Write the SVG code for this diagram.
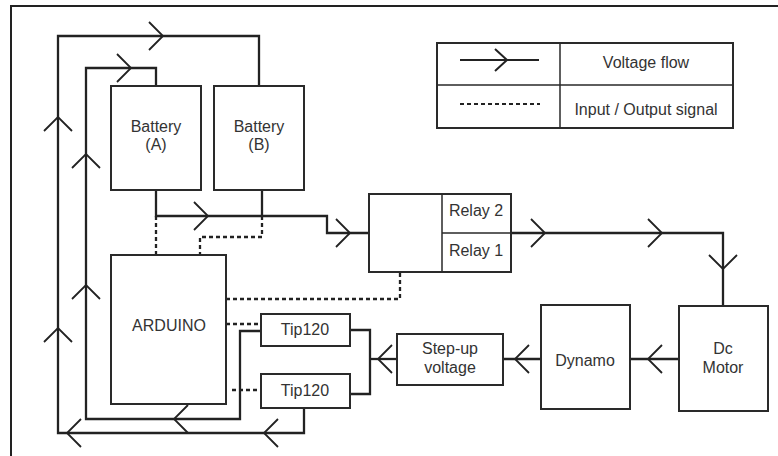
<svg xmlns="http://www.w3.org/2000/svg" xmlns:xlink="http://www.w3.org/1999/xlink" width="778" height="456" viewBox="0 0 778 456">
<style>
  .box{fill:#fff;stroke:#2a2a2a;stroke-width:2}
  .wire{fill:none;stroke:#222;stroke-width:2.3;stroke-linejoin:miter}
  .sig{fill:none;stroke:#222;stroke-width:2.3;stroke-dasharray:4 3}
  .chev{fill:none;stroke:#222;stroke-width:1.8}
  .thin{fill:none;stroke:#2a2a2a;stroke-width:1.5}
  text{font-family:"Liberation Sans",Arial,sans-serif;font-size:16px;fill:#333;text-anchor:middle}
</style>
<defs>
  <path id="chev" class="chev" d="M-14,-14 L0,0 L-14,14"/>
</defs>
<rect width="778" height="456" fill="#fff"/>
<path d="M11,456 V6 H778" fill="none" stroke="#222" stroke-width="2"/>

<g id="connectors">
  <path class="wire" d="M304,408 V433 H58 V36 H259 V86"/>
  <path class="wire" d="M261,331 H240 V419 H86 V68 H156 V86"/>
  <path class="wire" d="M156,190 V216 H327 V233 H369"/>
  <path class="wire" d="M262,190 V216"/>
  <path class="wire" d="M511,233 H723 V306"/>
  <path class="wire" d="M679,359 H630"/>
  <path class="wire" d="M541,359 H503"/>
  <path class="wire" d="M397,359 H370"/>
  <path class="wire" d="M350,330 H370 V394 H350"/>
  <path class="sig" d="M156,216 V255"/>
  <path class="sig" d="M262,216 V237 H200 V255"/>
  <path class="sig" d="M226,299 H400 V272"/>
  <path class="sig" d="M226,324 H261"/>
  <path class="sig" d="M232,390 H261"/>
  <use xlink:href="#chev" transform="translate(163,36)"/>
  <use xlink:href="#chev" transform="translate(131,68)"/>
  <use xlink:href="#chev" transform="translate(58,117) rotate(-90)"/>
  <use xlink:href="#chev" transform="translate(58,328) rotate(-90)"/>
  <use xlink:href="#chev" transform="translate(86,154) rotate(-90)"/>
  <use xlink:href="#chev" transform="translate(86,285) rotate(-90)"/>
  <use xlink:href="#chev" transform="translate(208,216)"/>
  <use xlink:href="#chev" transform="translate(350,233)"/>
  <use xlink:href="#chev" transform="translate(545,233)"/>
  <use xlink:href="#chev" transform="translate(662,233)"/>
  <use xlink:href="#chev" transform="translate(723,269) rotate(90)"/>
  <use xlink:href="#chev" transform="translate(648,359) rotate(180)"/>
  <use xlink:href="#chev" transform="translate(515,359) rotate(180)"/>
  <use xlink:href="#chev" transform="translate(378,359) rotate(180)"/>
  <use xlink:href="#chev" transform="translate(174,419) rotate(180)"/>
  <use xlink:href="#chev" transform="translate(264,433) rotate(180)"/>
  <use xlink:href="#chev" transform="translate(67,433) rotate(180)"/>
</g>

<g id="battery-a">
  <rect class="box" x="111" y="86" width="90" height="104"/>
  <text x="156" y="132">Battery</text>
  <text x="156" y="150">(A)</text>
</g>
<g id="battery-b">
  <rect class="box" x="214" y="86" width="90" height="104"/>
  <text x="259" y="132">Battery</text>
  <text x="259" y="150">(B)</text>
</g>
<g id="arduino">
  <rect class="box" x="111" y="255" width="115" height="149"/>
  <text x="169" y="331">ARDUINO</text>
</g>
<g id="relay">
  <rect class="box" x="369" y="194" width="142" height="78"/>
  <path class="thin" d="M442,194 V272 M442,233 H511"/>
  <text x="476" y="216">Relay 2</text>
  <text x="476" y="256">Relay 1</text>
</g>
<g id="tip120-top">
  <rect class="box" x="261" y="314" width="89" height="32"/>
  <text x="305" y="335">Tip120</text>
</g>
<g id="tip120-bottom">
  <rect class="box" x="261" y="374" width="89" height="34"/>
  <text x="305" y="396">Tip120</text>
</g>
<g id="step-up">
  <rect class="box" x="397" y="334" width="106" height="51"/>
  <text x="450" y="354">Step-up</text>
  <text x="450" y="373">voltage</text>
</g>
<g id="dynamo">
  <rect class="box" x="541" y="305" width="89" height="104"/>
  <text x="585" y="366">Dynamo</text>
</g>
<g id="dc-motor">
  <rect class="box" x="679" y="306" width="89" height="105"/>
  <text x="723" y="354">Dc</text>
  <text x="723" y="373">Motor</text>
</g>
<g id="legend">
  <rect class="box" x="437" y="43" width="296" height="85"/>
  <path class="thin" d="M560,43 V128 M437,85 H733"/>
  <path fill="none" stroke="#222" stroke-width="2" d="M460,60 H539 M495,49 L507,60 L495,71"/>
  <path fill="none" stroke="#222" stroke-width="2" stroke-dasharray="4 3" d="M460,104 H540"/>
  <text x="646" y="68">Voltage flow</text>
  <text x="646" y="115">Input / Output signal</text>
</g>
</svg>
